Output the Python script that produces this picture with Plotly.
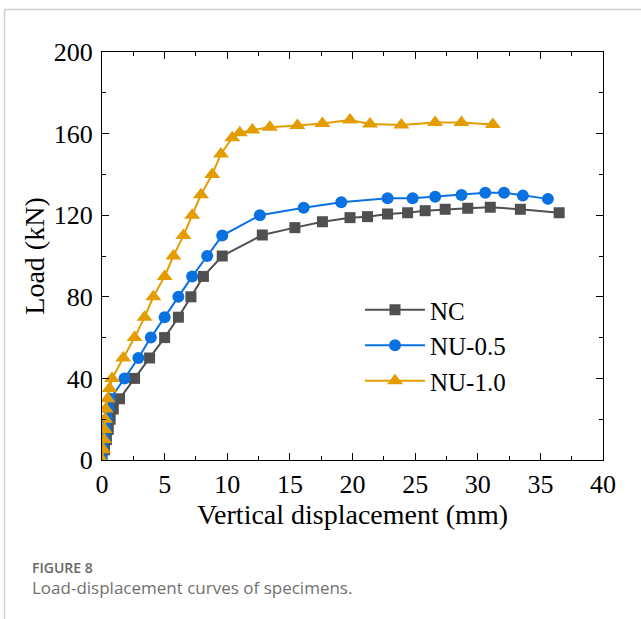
import plotly.graph_objects as go

# Data
nc_x = [0, 0.2, 0.35, 0.5, 0.65, 0.9, 1.4, 2.6, 3.8, 5.0, 6.1, 7.1, 8.1, 9.6, 12.8, 15.4,
        17.6, 19.8, 21.2, 22.8, 24.4, 25.8, 27.4, 29.2, 31.0, 33.4, 36.5]
nc_y = [0, 5, 10, 15, 20, 25, 30, 40, 50, 60, 70, 80, 90, 100, 110.3, 113.9,
        116.8, 118.8, 119.3, 120.6, 121.2, 122.2, 122.9, 123.4, 123.9, 122.9, 121.2]

nu05_x = [0, 0.1, 0.2, 0.3, 0.4, 0.5, 0.65, 1.8, 2.9, 3.9, 5.0, 6.1, 7.2, 8.4, 9.6, 12.6,
          16.1, 19.1, 22.8, 24.8, 26.6, 28.7, 30.6, 32.1, 33.6, 35.6]
nu05_y = [0, 5, 10, 15, 20, 25, 30, 40, 50, 60, 70, 80, 90, 100, 110, 120,
          123.7, 126.3, 128.3, 128.3, 129.1, 129.9, 131.0, 131.0, 129.6, 128.0]

nu10_x = [0, 0.1, 0.15, 0.2, 0.25, 0.3, 0.45, 0.6, 0.8, 1.7, 2.6, 3.4, 4.1, 5.0, 5.7,
          6.5, 7.2, 7.9, 8.8, 9.5, 10.4, 11.0, 12.0, 13.4, 15.6, 17.6, 19.8, 21.4,
          23.9, 26.6, 28.7, 31.2]
nu10_y = [0, 5, 10, 15, 20, 25, 30, 35, 40, 50, 60, 70, 80, 90, 100,
          110, 120, 130, 140, 150, 158, 160.4, 161.8, 163.1, 164.0, 165.0, 166.7, 164.7,
          164.2, 165.5, 165.5, 164.5]

names = ["NC", "NU-0.5", "NU-1.0"]
colors = ["#505050", "#0A72E0", "#E39D00"]
symbols = ["square", "circle", "triangle-up"]
sizes = [11, 12, 14]

x_ticks = [0, 5, 10, 15, 20, 25, 30, 35, 40]
y_ticks = [0, 40, 80, 120, 160, 200]

series = [(nc_x, nc_y), (nu05_x, nu05_y), (nu10_x, nu10_y)]

fig = go.Figure()
for (xs, ys), n, c, s, z in zip(series, names, colors, symbols, sizes):
    fig.add_trace(go.Scatter(
        x=xs, y=ys, name=n, mode="lines+markers",
        line=dict(color=c, width=2),
        marker=dict(symbol=s, size=z, color=c, line=dict(width=0)),
    ))

serif = "Liberation Serif"
axis_common = dict(
    showline=True, linecolor="black", linewidth=1.3, mirror="ticks",
    ticks="inside", ticklen=7, tickwidth=1.2, tickcolor="black",
    showgrid=False, zeroline=False,
    tickfont=dict(family=serif, size=26, color="black"),
)

fig.update_xaxes(
    range=[0, 40], tickvals=x_ticks, ticktext=[str(v) for v in x_ticks],
    title=dict(text="Vertical displacement (mm)", font=dict(family=serif, size=28, color="black"), standoff=6),
    minor=dict(ticks="inside", ticklen=4, tickwidth=1.2, tickcolor="black", dtick=2.5),
    ticklabelstandoff=1,
    **axis_common,
)
fig.update_yaxes(
    range=[0, 200], tickvals=y_ticks, ticktext=[str(v) for v in y_ticks],
    title=dict(text="Load (kN)", font=dict(family=serif, size=28, color="black"), standoff=0),
    minor=dict(ticks="inside", ticklen=4, tickwidth=1.2, tickcolor="black", dtick=20),
    ticklabelstandoff=3,
    **axis_common,
)

# pixel helpers for frame / caption (plot area: x 102..603, y 52..460)
L, R, T, B = 102, 603, 52, 460
def px(p):
    return (p - L) / (R - L)
def py(p):
    return (B - p) / (B - T)

fig.update_layout(
    width=641, height=619,
    margin=dict(l=L, r=641 - R, t=T, b=619 - B),
    paper_bgcolor="white", plot_bgcolor="white",
    showlegend=True,
    legend=dict(
        x=px(360), y=py(287), xanchor="left", yanchor="top",
        font=dict(family=serif, size=25, color="black"),
        bgcolor="rgba(0,0,0,0)", itemwidth=60, tracegroupgap=0,
    ),
    shapes=[
        dict(type="line", xref="paper", yref="paper", x0=px(4.5), x1=px(4.5), y0=py(9.5), y1=py(619),
             line=dict(color="#cfcfcf", width=1.5)),
        dict(type="line", xref="paper", yref="paper", x0=px(4.5), x1=px(641), y0=py(9.5), y1=py(9.5),
             line=dict(color="#cfcfcf", width=1.5)),
    ],
    annotations=[
        dict(text="FIGURE 8", xref="paper", yref="paper", x=px(30), y=py(567),
             xanchor="left", yanchor="middle", showarrow=False,
             font=dict(family="Open Sans", size=14, color="#666666", weight=600)),
        dict(text="Load-displacement curves of specimens.", xref="paper", yref="paper",
             x=px(30), y=py(587), xanchor="left", yanchor="middle", showarrow=False,
             font=dict(family="Open Sans", size=17, color="#707070")),
    ],
)

fig.write_html("out.html")
